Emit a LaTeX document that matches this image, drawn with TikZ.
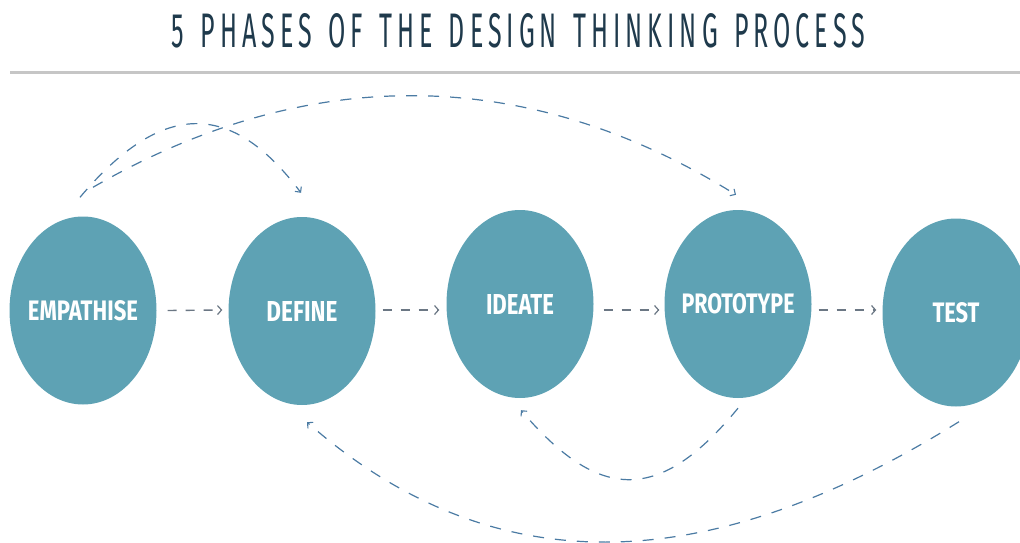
\documentclass[tikz,border=0pt]{standalone}
\usepackage{fontspec}
\usepackage{graphicx}
\setmainfont{Fira Sans}
\newfontfamily\headingfont{Fira Sans}[LetterSpace=20,WordSpace=1.4]
\usetikzlibrary{shapes.geometric,arrows.meta,calc}

\definecolor{phase}{HTML}{5EA2B4}
\definecolor{titleink}{HTML}{1F3A4C}
\definecolor{rulegray}{HTML}{C6C6C6}
\definecolor{flowgray}{HTML}{6B7784}
\definecolor{loopblue}{HTML}{4B7BA3}

% phase label squeezed into a fixed box; zero width so the ellipse keeps its size
\newcommand\phaselabel[2]{\makebox[0pt]{\resizebox{#1}{20pt}{\bfseries #2}}}

\tikzset{
  phasenode/.style={ellipse, fill=phase, draw=none, minimum width=147pt,
    minimum height=188pt, inner sep=0pt, text=white},
  flow/.style={draw=flowgray, line width=1.4pt, dash pattern=on 9pt off 9pt,
    -{Straight Barb[length=4pt,width=9pt,line width=1.2pt]}},
  loop/.style={draw=loopblue, line width=1.2pt, dash pattern=on 11pt off 11pt,
    -{Straight Barb[length=4pt,width=8pt,line width=1.1pt]}},
}

\begin{document}
\begin{tikzpicture}[x=1pt,y=-1pt]
  \useasboundingbox (0,0) rectangle (1020,543);
  \clip (0,0) rectangle (1020,543);

  % heading and rule
  \node[inner sep=0pt, text=titleink] (title) at (518.5,31)
    {\resizebox{693pt}{34pt}{\headingfont 5 PHASES OF THE DESIGN THINKING PROCESS}};
  \draw[rulegray, line width=3pt] (10,73) -- (1020,73);

  % the five phases
  \node[phasenode] (emp) at (83,310.5) {\phaselabel{110pt}{EMPATHISE}};
  \node[phasenode] (def) at (302,311) {\phaselabel{71pt}{DEFINE}};
  \node[phasenode] (ide) at (520,304) {\phaselabel{68pt}{IDEATE}};
  \node[phasenode] (pro) at (738,304) {\phaselabel{113pt}{PROTOTYPE}};
  \node[phasenode] (tst) at (956,312.5) {\phaselabel{47pt}{TEST}};

  % forward steps
  \draw[flow] ($(emp.east)+(11,0)$) -- ($(def.west)+(-6,-1)$);
  \draw[flow] ($(def.east)+(7,-1)$) -- ($(def.east -| ide.west)+(-7,-1)$);
  \draw[flow] ($(ide.east |- def.east)+(10,-1)$) -- ($(def.east -| pro.west)+(-5,-1)$);
  \draw[flow] ($(pro.east |- def.east)+(7,-1)$) -- ($(def.east -| tst.west)+(-6,-1)$);

  % loops over the top
  \draw[loop] ($(emp.north)+(-3,-19)$) .. controls (162,100) and (231,100) .. ($(def.north)+(-1,-24)$);
  \draw[loop] ($(emp.north)+(10,-29)$) .. controls (306,64) and (526,64) .. ($(pro.north)+(-2,-15)$);

  % loops underneath
  \draw[loop] ($(pro.south)+(0,10)$) .. controls (660,503) and (600,503) .. ($(ide.south)+(1,12)$);
  \draw[loop] ($(tst.south)+(3,15)$) .. controls (702,582) and (490,582) .. ($(def.south)+(5,17)$);
\end{tikzpicture}
\end{document}
